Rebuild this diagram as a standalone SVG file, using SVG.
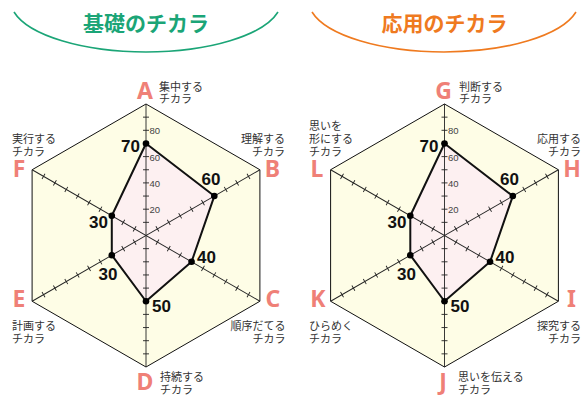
<svg xmlns="http://www.w3.org/2000/svg" xmlns:xlink="http://www.w3.org/1999/xlink" width="588" height="398" viewBox="0 0 588 398">
<style>
.title{font-family:"Noto Sans CJK JP","Noto Sans",sans-serif;font-weight:bold;font-size:21px;text-anchor:middle}
.lt{font-family:"Noto Sans","Liberation Sans",sans-serif;font-weight:bold;font-size:23px;fill:#ef8077;text-anchor:middle}
.jp{font-family:"Noto Sans CJK JP",sans-serif;font-size:11px;fill:#333}
.end{text-anchor:end}
.val{font-family:"Liberation Sans","Noto Sans",sans-serif;font-weight:bold;font-size:17px;fill:#111}
.sc{font-family:"Liberation Sans",sans-serif;font-size:9.5px;fill:#444}
.hex{fill:#fefde6;stroke:#111;stroke-width:1}
.data{fill:#fdf0f1;stroke:#111;stroke-width:2;stroke-linejoin:round}
.ax{stroke:#222;stroke-width:0.9;fill:none}
</style>
<defs>
<g id="axis">
<line class="ax" x1="0" y1="-131.5" x2="0" y2="131.5"/>
<path class="ax" d="M-3,-13.15h6M-3,-26.3h6M-3,-39.45h6M-3,-52.6h6M-3,-65.75h6M-3,-78.9h6M-3,-92.05h6M-3,-105.2h6M-3,-118.35h6M-3,13.15h6M-3,26.3h6M-3,39.45h6M-3,52.6h6M-3,65.75h6M-3,78.9h6M-3,92.05h6M-3,105.2h6M-3,118.35h6"/>
</g>
<g id="chart">
<polygon class="hex" points="0,-131.5 113.9,-65.75 113.9,65.75 0,131.5 -113.9,65.75 -113.9,-65.75"/>
<polygon class="data" points="0,-92.05 68.3,-39.45 45.55,26.3 0,65.75 -34.2,19.7 -34.2,-19.7"/>
<use xlink:href="#axis"/>
<use xlink:href="#axis" transform="rotate(60)"/>
<use xlink:href="#axis" transform="rotate(120)"/>
<g fill="#000">
<circle cx="0" cy="-92.05" r="3.3"/><circle cx="68.3" cy="-39.45" r="3.3"/><circle cx="45.55" cy="26.3" r="3.3"/>
<circle cx="0" cy="65.75" r="3.3"/><circle cx="-34.2" cy="19.7" r="3.3"/><circle cx="-34.2" cy="-19.7" r="3.3"/>
</g>
<g class="sc"><text x="3.5" y="-101.2">80</text><text x="3.5" y="-74.9">60</text><text x="3.5" y="-48.6">40</text><text x="3.5" y="-22.3">20</text></g>
<g class="val">
<text x="-6" y="-83.5" class="end">70</text>
<text x="65" y="-50.5" text-anchor="middle">60</text>
<text x="51" y="27.5">40</text>
<text x="6" y="76.5">50</text>
<text x="-38" y="44.5" text-anchor="middle">30</text>
<text x="-38" y="-7.5" class="end">30</text>
</g>
</g>
</defs>

<g id="left-title">
<path d="M14,12 A135.7,52 0 0 0 278,12" fill="none" stroke="#1ba577" stroke-width="1.6"/>
<text class="title" x="146" y="31" fill="#1ba577">基礎のチカラ</text>
</g>
<g id="right-title">
<path d="M312,12 A135.7,52 0 0 0 576,12" fill="none" stroke="#ef7a1f" stroke-width="1.6"/>
<text class="title" x="444.5" y="31" fill="#ef7a1f">応用のチカラ</text>
</g>

<g id="left-chart"><use xlink:href="#chart" transform="translate(146,235.5)"/></g>
<g id="right-chart"><use xlink:href="#chart" transform="translate(444.5,235.5)"/></g>

<g id="node-A"><text class="lt" x="145" y="98.5">A</text><text class="jp" x="159" y="91">集中する<tspan x="159" dy="12">チカラ</tspan></text></g>
<g id="node-B"><text class="lt" x="272.5" y="176.5">B</text><text class="jp end" x="285" y="143">理解する<tspan x="285" dy="13">チカラ</tspan></text></g>
<g id="node-C"><text class="lt" x="273" y="307">C</text><text class="jp end" x="285.5" y="330">順序だてる<tspan x="285.5" dy="13">チカラ</tspan></text></g>
<g id="node-D"><text class="lt" x="145" y="390">D</text><text class="jp" x="160" y="381">持続する<tspan x="160" dy="13">チカラ</tspan></text></g>
<g id="node-E"><text class="lt" x="19" y="307">E</text><text class="jp" x="12" y="330">計画する<tspan x="12" dy="13">チカラ</tspan></text></g>
<g id="node-F"><text class="lt" x="19" y="176.5">F</text><text class="jp" x="12" y="143">実行する<tspan x="12" dy="13">チカラ</tspan></text></g>

<g id="node-G"><text class="lt" x="443.5" y="98.5">G</text><text class="jp" x="459" y="91">判断する<tspan x="459" dy="12">チカラ</tspan></text></g>
<g id="node-H"><text class="lt" x="572" y="176.5">H</text><text class="jp end" x="581" y="143">応用する<tspan x="581" dy="13">チカラ</tspan></text></g>
<g id="node-I"><text class="lt" x="571.5" y="307">I</text><text class="jp end" x="581" y="330">探究する<tspan x="581" dy="13">チカラ</tspan></text></g>
<g id="node-J"><text class="lt" x="443" y="390">J</text><text class="jp" x="458" y="381">思いを伝える<tspan x="458" dy="13">チカラ</tspan></text></g>
<g id="node-K"><text class="lt" x="318" y="307">K</text><text class="jp" x="309" y="330">ひらめく<tspan x="309" dy="13">チカラ</tspan></text></g>
<g id="node-L"><text class="lt" x="317" y="176.5">L</text><text class="jp" x="309" y="129.5">思いを<tspan x="309" dy="13.5">形にする</tspan><tspan x="309" dy="13">チカラ</tspan></text></g>
<g id="connectors"></g>
</svg>
